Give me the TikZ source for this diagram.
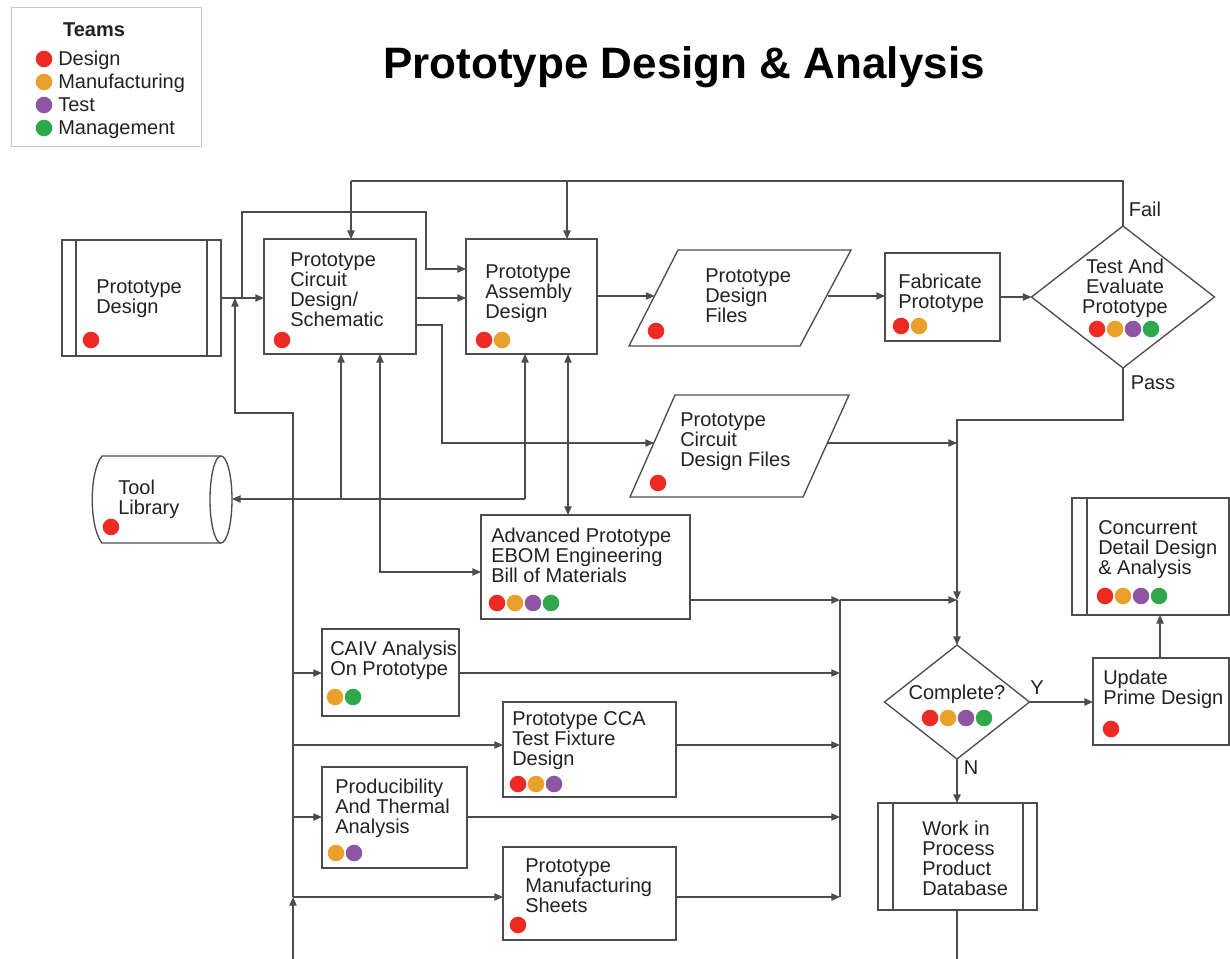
\documentclass[tikz,border=0pt]{standalone}
\usepackage{fontspec}
\setmainfont{Liberation Sans}
\usetikzlibrary{arrows.meta,shapes.geometric,fit,calc}
\definecolor{cR}{HTML}{EE2A24}
\definecolor{cO}{HTML}{E9A12B}
\definecolor{cP}{HTML}{8E55A3}
\definecolor{cG}{HTML}{2FA84B}
\definecolor{ln}{HTML}{4D4D4D}
\definecolor{tx}{HTML}{222222}
\tikzset{
  box/.style={draw=ln, line width=1pt, inner sep=0pt, outer sep=0pt, fill=white},
  ghost/.style={inner sep=0pt, outer sep=0pt},
  lbl/.style={anchor=north west, inner sep=0pt, align=left, text=tx, font=\fontsize{15}{15}\selectfont},
  clbl/.style={anchor=north, inner sep=0pt, align=center, text=tx, font=\fontsize{15}{15}\selectfont},
  blbl/.style={anchor=base, inner sep=0pt, text=tx, font=\fontsize{15}{15}\selectfont},
  leg/.style={anchor=base west, inner sep=0pt, text=tx, font=\fontsize{15}{15}\selectfont},
  conn/.style={draw=ln, line width=1pt},
  arr/.style={conn, -{Triangle[length=6.5pt,width=5.5pt]}},
  arrb/.style={conn, {Triangle[length=6.5pt,width=5.5pt]}-{Triangle[length=6.5pt,width=5.5pt]}},
  dia/.style={draw=ln, line width=1pt, diamond, inner sep=0pt, outer sep=0pt, fill=white},
}
\newcommand\teamdots[3]{\foreach \cc [count=\ii from 0] in {#3} {\fill[\cc] (#1+18*\ii,#2) circle[radius=6.2pt];}}
\begin{document}
\begin{tikzpicture}[x=0.75pt,y=-0.75pt]
\fill[white] (0,0) rectangle (1230,959);
\useasboundingbox (0,0) rectangle (1230,959);

% legend
\node[draw={rgb,255:red,200;green,200;blue,200}, line width=0.75pt, fit={(11,8)(201,147)}, inner sep=0pt] (legend) {};
\node[anchor=base, inner sep=0pt, text=tx, font=\fontsize{15}{15}\selectfont\bfseries] (teams) at (94,37) {Teams};
\teamdots{44}{59}{cR}
\teamdots{44}{82}{cO}
\teamdots{44}{105}{cP}
\teamdots{44}{128}{cG}
\node[leg] (l1) at (58,66) {Design};
\node[leg] (l2) at (58,89) {Manufacturing};
\node[leg] (l3) at (58,112) {Test};
\node[leg] (l4) at (58,135) {Management};

% title
\node[anchor=base, inner sep=0pt, text=black, font=\fontsize{33}{36}\selectfont\bfseries] (title) at (684,79) {Prototype Design \& Analysis};

% Prototype Design (predefined process)
\node[box, fit={(62,240)(221,356)}] (pd) {};
\draw[conn] (76,240) -- (76,356) (207,240) -- (207,356);
\node[lbl] (tpd) at (96,279) {Prototype\\Design};
\teamdots{91}{340}{cR}

% Circuit design
\node[box, fit={(264,239)(416,354)}] (circ) {};
\node[lbl] (tcirc) at (290,252) {Prototype\\Circuit\\Design/\\Schematic};
\teamdots{282}{340}{cR}

% Assembly design
\node[box, fit={(466,239)(597,354)}] (asm) {};
\node[lbl] (tasm) at (485,264) {Prototype\\Assembly\\Design};
\teamdots{484}{340}{cR,cO}

% Prototype Design Files
\node[ghost, fit={(629,250)(851,346)}] (pdf) {};
\draw[conn, fill=white] (678,250) -- (851,250) -- (800,346) -- (629,346) -- cycle;
\node[lbl] (tpdf) at (705,268) {Prototype\\Design\\Files};
\teamdots{656}{331}{cR}

% Fabricate
\node[box, fit={(885,253)(1000,341)}] (fab) {};
\node[lbl] (tfab) at (898,274) {Fabricate\\Prototype};
\teamdots{901}{326}{cR,cO}

% Test diamond
\node[dia, minimum width=137.25pt, minimum height=106.5pt] (test) at (1123,297) {};
\node[clbl] (ttest) at (1125,259) {Test And\\Evaluate\\Prototype};
\teamdots{1097}{329}{cR,cO,cP,cG}
\node[blbl] (fail) at (1145,217) {Fail};
\node[blbl] (pass) at (1153,389) {Pass};

% Circuit Design Files
\node[ghost, fit={(630,395)(849,497)}] (cdf) {};
\draw[conn, fill=white] (675,395) -- (849,395) -- (803,497) -- (630,497) -- cycle;
\node[lbl] (tcdf) at (680,412) {Prototype\\Circuit\\Design Files};
\teamdots{658}{483}{cR}

% Tool Library
\node[ghost, fit={(92,456)(232,543)}] (tool) {};
\draw[conn, fill=white] (221,456) -- (102,456) .. controls (89,472) and (89,527) .. (102,543) -- (221,543);
\draw[conn] (221,499.5) ellipse[x radius=8.25pt, y radius=32.6pt];
\node[lbl] (ttool) at (118,480) {Tool\\Library};
\teamdots{111}{527}{cR}

% EBOM
\node[box, fit={(481,515)(690,619)}] (ebom) {};
\node[lbl] (tebom) at (491,528) {Advanced Prototype\\EBOM Engineering\\Bill of Materials};
\teamdots{497}{603}{cR,cO,cP,cG}

% CAIV
\node[box, fit={(322,629)(459,716)}] (caiv) {};
\node[lbl] (tcaiv) at (330,641) {CAIV Analysis\\On Prototype};
\teamdots{335}{697}{cO,cG}

% CCA
\node[box, fit={(503,702)(676,797)}] (cca) {};
\node[lbl] (tcca) at (512,711) {Prototype CCA\\Test Fixture\\Design};
\teamdots{518}{784}{cR,cO,cP}

% Producibility
\node[box, fit={(322,767)(467,868)}] (prod) {};
\node[lbl] (tprod) at (335,779) {Producibility\\And Thermal\\Analysis};
\teamdots{336}{853}{cO,cP}

% Manufacturing sheets
\node[box, fit={(503,847)(676,940)}] (mfg) {};
\node[lbl] (tmfg) at (525,858) {Prototype\\Manufacturing\\Sheets};
\teamdots{518}{925}{cR}

% Complete diamond
\node[dia, minimum width=108.75pt, minimum height=85.5pt] (comp) at (957,702) {};
\node[clbl] (tcomp) at (957,685) {Complete?};
\teamdots{930}{718}{cR,cO,cP,cG}
\node[blbl] (ylab) at (1037,694) {Y};
\node[blbl] (nlab) at (971,774) {N};

% Update prime design
\node[box, fit={(1093,658)(1229,745)}] (upd) {};
\node[lbl] (tupd) at (1103,670) {Update\\Prime Design};
\teamdots{1111}{729}{cR}

% Concurrent detail design
\node[box, fit={(1072,498)(1229,615)}] (conc) {};
\draw[conn] (1087,498) -- (1087,615);
\node[lbl] (tconc) at (1098,520) {Concurrent\\Detail Design\\\& Analysis};
\teamdots{1105}{596}{cR,cO,cP,cG}

% Work in process
\node[box, fit={(878,803)(1037,910)}] (wip) {};
\draw[conn] (893,803) -- (893,910) (1023,803) -- (1023,910);
\node[lbl] (twip) at (922,821) {Work in\\Process\\Product\\Database};

% ---- connectors ----
\coordinate (j1) at (242,298);
\draw[arr] (pd.east) -- (pd.east -| circ.west);
\draw[arr] (j1) -- (242,212) -- (426,212) -- (426,269) -- (asm.west |- 0,269);
\draw[arr] (circ.east |- 0,298) -- (asm.west |- 0,298);
\coordinate (cdfin) at (654,443);
\draw[arr] (circ.east |- 0,325) -- (442,325) -- (442,443) -- (cdfin);
\coordinate (pdfin) at (654.5,296);
\coordinate (pdfout) at (827.5,296);
\draw[arr] (asm.east |- 0,296) -- (pdfin);
\draw[arr] (pdfout) -- (fab.west |- 0,296);
\draw[arr] (fab.east |- 0,297) -- (test.west);

% fail loop
\coordinate (top1) at (1123,181);
\draw[conn] (test.north) -- (top1) -- (351,181);
\draw[arr] (351,181) -- (circ.north -| 351,0);
\draw[arr] (567,181) -- (asm.north -| 567,0);

% pass path
\coordinate (m1) at (957,600);
\draw[arr] (test.south) -- (1123,420) -- (957,420) -- (m1);
\draw[arr] (m1) -- (comp.north);
\coordinate (cdfout) at (827,443);
\draw[arr] (cdfout) -- (957,443);

% collector
\coordinate (c1) at (840,600);
\draw[arr] (ebom.east |- c1) -- (c1);
\draw[arr] (c1) -- (m1);
\draw[arr] (caiv.east |- 0,673) -- (840,673);
\draw[arr] (cca.east |- 0,745) -- (840,745);
\draw[arr] (prod.east |- 0,817) -- (840,817);
\draw[arr] (mfg.east |- 0,897) -- (840,897);
\draw[conn] (840,897) -- (c1);

% left bus
\coordinate (b1) at (293,897);
\draw[arr] (293,959) -- (b1);
\draw[arr] (b1) -- (293,413) -- (235,413) -- (235,298);
\draw[arr] (293,673) -- (caiv.west |- 0,673);
\draw[arr] (293,745) -- (cca.west |- 0,745);
\draw[arr] (293,817) -- (prod.west |- 0,817);
\draw[arr] (b1) -- (mfg.west |- b1);

% tool library links
\coordinate (t1) at (525,499);
\draw[arr] (341,499) -- (circ.south -| 341,0);
\draw[arr] (t1) -- (asm.south -| t1);
\draw[arr] (t1) -- (tool.east |- t1);
\draw[arrb] (circ.south -| 380,0) -- (380,572) -- (ebom.west |- 0,572);
\draw[arrb] (asm.south -| 568,0) -- (ebom.north -| 568,0);

% right side
\draw[arr] (comp.east) -- (upd.west |- comp.east);
\draw[arr] (upd.north -| 1160,0) -- (conc.south -| 1160,0);
\draw[arr] (comp.south) -- (wip.north -| comp.south);
\draw[conn] (wip.south -| 957,0) -- (957,959);
\end{tikzpicture}
\end{document}
